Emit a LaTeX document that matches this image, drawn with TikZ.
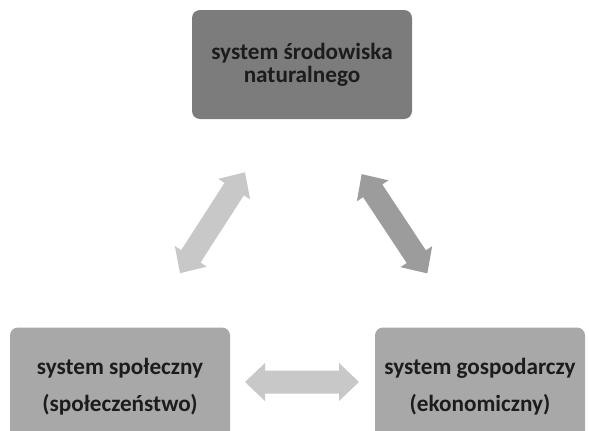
\documentclass[tikz,border=0pt]{standalone}
\usepackage{fontspec}
\setmainfont{Carlito}
\usetikzlibrary{calc,positioning}
\definecolor{boxdark}{RGB}{124,124,124}
\definecolor{boxlight}{RGB}{168,168,168}
\definecolor{arrowlight}{RGB}{200,200,200}
\definecolor{arrowdark}{RGB}{156,156,156}
\definecolor{textgray}{RGB}{28,28,28}
\tikzstyle{sysbox}=[rectangle,rounded corners=6pt,align=center,text=textgray,font=\fontsize{17.4}{17.5}\selectfont\bfseries,inner sep=0pt]
\tikzstyle{sysdark}=[sysbox,fill=boxdark,minimum width=165pt,minimum height=81.75pt]
\tikzstyle{syslight}=[sysbox,fill=boxlight,minimum height=89.25pt]

\begin{document}
\begin{tikzpicture}[x=0.75pt,y=0.75pt]
	\def \hl {20};
	\def \hw {19};
	\def \sw {11.5};

	\useasboundingbox (0,0) rectangle (589,430);
	\clip (0,0) rectangle (589,430);

	\node[sysdark] (nature) at (302,365.5) {system środowiska\\naturalnego};
	\node[syslight,minimum width=165pt] (society) at (120,43) {system społeczny\\[10pt](społeczeństwo)};
	\node[syslight,minimum width=157.5pt] (economy) at (480,43) {system gospodarczy\\[10pt](ekonomiczny)};

	\coordinate (arrL) at ($(nature)!0.5!(society)+(1.5,3)$);
	\coordinate (arrR) at ($(nature)!0.5!(economy)+(3.5,2)$);
	\coordinate (arrH) at ($(society)!0.5!(economy)+(2,5)$);

	\foreach \c/\ang/\len/\col in {arrL/57.2/60/arrowlight, arrR/-56.5/59.5/arrowdark, arrH/0/57/arrowlight} {
		\fill[\col,shift={(\c)},rotate=\ang] (-\len,0) -- (-\len+\hl,\hw) -- (-\len+\hl,\sw) -- (\len-\hl,\sw) -- (\len-\hl,\hw) -- (\len,0)
			-- (\len-\hl,-\hw) -- (\len-\hl,-\sw) -- (-\len+\hl,-\sw) -- (-\len+\hl,-\hw) -- cycle;
	};
\end{tikzpicture}
\end{document}
